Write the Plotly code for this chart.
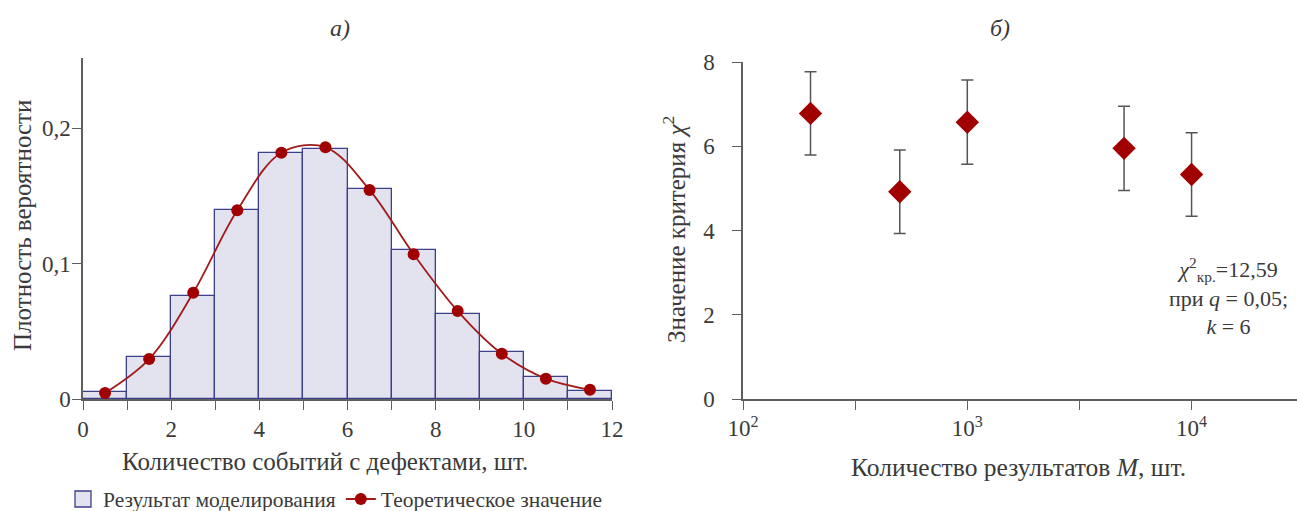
import plotly.graph_objects as go

# --- histogram of simulated defect counts (a) ---
bin_centers = [0.5, 1.5, 2.5, 3.5, 4.5, 5.5, 6.5, 7.5, 8.5, 9.5, 10.5, 11.5]
sim_density = [0.005, 0.031, 0.076, 0.140, 0.182, 0.185, 0.155, 0.110, 0.063, 0.035, 0.016, 0.006]
theory_density = [0.0045, 0.0295, 0.0785, 0.1395, 0.1820, 0.1860, 0.1545, 0.1070, 0.0650, 0.0335, 0.0150, 0.0068]
x_ticks_a = [0, 2, 4, 6, 8, 10, 12]
y_ticks_a = [0, 0.1, 0.2]

# --- chi-square statistic vs number of results (б) ---
n_results = [200, 500, 1000, 5000, 10000]
chi2_values = [6.78, 4.92, 6.57, 5.95, 5.33]
chi2_err = [0.99, 0.99, 1.0, 1.0, 0.99]
x_ticks_b = [100, 316.23, 1000, 3162.3, 10000]
x_labels_b = ["10<sup>2</sup>", "", "10<sup>3</sup>", "", "10<sup>4</sup>"]
y_ticks_b = [0, 2, 4, 6, 8]

W, H = 1297, 511
FONT = "Liberation Serif"
TXT = "#3a3a3a"
AX = "#5f5f5f"
RED = "#a00000"
BAR_FILL = "#e2e3ef"
BAR_EDGE = "#3c3f8c"


def px(x):
    return x / W


def py(y):
    return 1 - y / H


fig = go.Figure()

fig.add_trace(go.Bar(
    x=bin_centers, y=sim_density, width=1.0,
    marker=dict(color=BAR_FILL, line=dict(color=BAR_EDGE, width=1.3)),
    name="Результат моделирования", showlegend=False,
    xaxis="x", yaxis="y",
))
# legend entry for the histogram with a larger square swatch
fig.add_trace(go.Scatter(
    x=[None], y=[None], mode="markers",
    marker=dict(symbol="square", size=18, color=BAR_FILL, line=dict(color=BAR_EDGE, width=1.3)),
    name="Результат моделирования",
    xaxis="x", yaxis="y",
))
fig.add_trace(go.Scatter(
    x=bin_centers, y=theory_density, mode="lines+markers",
    line=dict(color="#a31a1a", width=1.8, shape="spline", smoothing=1.0),
    marker=dict(color=RED, size=12),
    name="Теоретическое значение",
    xaxis="x", yaxis="y",
))
fig.add_trace(go.Scatter(
    x=n_results, y=chi2_values, mode="markers",
    marker=dict(symbol="diamond", color=RED, size=18),
    error_y=dict(type="data", array=chi2_err, color="#555555", thickness=1.5, width=6),
    showlegend=False,
    xaxis="x2", yaxis="y2",
))

axis_common = dict(
    showline=True, linecolor=AX, linewidth=1.5,
    ticks="outside", tickcolor=AX, ticklen=9, tickwidth=1.3,
    showgrid=False, zeroline=False, automargin=False,
    tickfont=dict(family=FONT, size=23, color=TXT),
)

fig.update_layout(
    width=W, height=H,
    margin=dict(l=0, r=0, t=0, b=0, autoexpand=False),
    paper_bgcolor="white", plot_bgcolor="white",
    separators=", ",
    font=dict(family=FONT, color=TXT),
    bargap=0,
    xaxis=dict(domain=[px(83), px(612)], range=[0, 12], anchor="y",
               tickvals=list(range(13)),
               ticktext=[str(v) if v in x_ticks_a else "" for v in range(13)],
               ticklabelstandoff=0, **axis_common),
    yaxis=dict(domain=[py(399), py(58)], range=[0, 0.252], anchor="x",
               tickvals=y_ticks_a, ticktext=["0", "0,1", "0,2"],
               ticklabelstandoff=-3, **axis_common),
    xaxis2=dict(domain=[px(743), 1.0], type="log", range=[2, 4.47], anchor="y2",
                tickvals=x_ticks_b, ticktext=x_labels_b,
                ticklabelstandoff=-1, **axis_common),
    yaxis2=dict(domain=[py(399), py(62)], range=[0, 8], anchor="x2",
                tickvals=y_ticks_b, ticklabelstandoff=13, **axis_common),
    legend=dict(orientation="h", x=px(63), y=py(499), xanchor="left", yanchor="middle",
                font=dict(family=FONT, size=21.5, color=TXT),
                itemwidth=30, itemsizing="trace", bgcolor="rgba(0,0,0,0)"),
)

annotations = [
    dict(text="<i>а)</i>", x=px(340), y=py(28), size=24),
    dict(text="<i>б)</i>", x=px(1000), y=py(28), size=24),
    dict(text="Количество событий с дефектами, шт.", x=px(325), y=py(461), size=25),
    dict(text="Количество результатов <i>M</i>, шт.", x=px(1018), y=py(467), size=25.5),
    dict(text="Плотность вероятности", x=px(22), y=py(226), size=25, angle=-90),
    dict(text="Значение критерия <i>χ</i><sup>2</sup>", x=px(674), y=py(230), size=25, angle=-90),
    dict(text="<i>χ</i><sup>2</sup><sub>кр.</sub>=12,59<br>при <i>q</i> = 0,05;<br><i>k</i> = 6",
         x=px(1228), y=py(296), size=22),
]
for a in annotations:
    fig.add_annotation(
        text=a["text"], x=a["x"], y=a["y"], xref="paper", yref="paper",
        xanchor="center", yanchor="middle", showarrow=False,
        textangle=a.get("angle", 0), align="center",
        font=dict(family=FONT, size=a["size"], color=TXT),
    )

fig.write_html(
    "out.html",
    post_script="document.body.style.margin='0';document.body.style.overflow='hidden';",
)
